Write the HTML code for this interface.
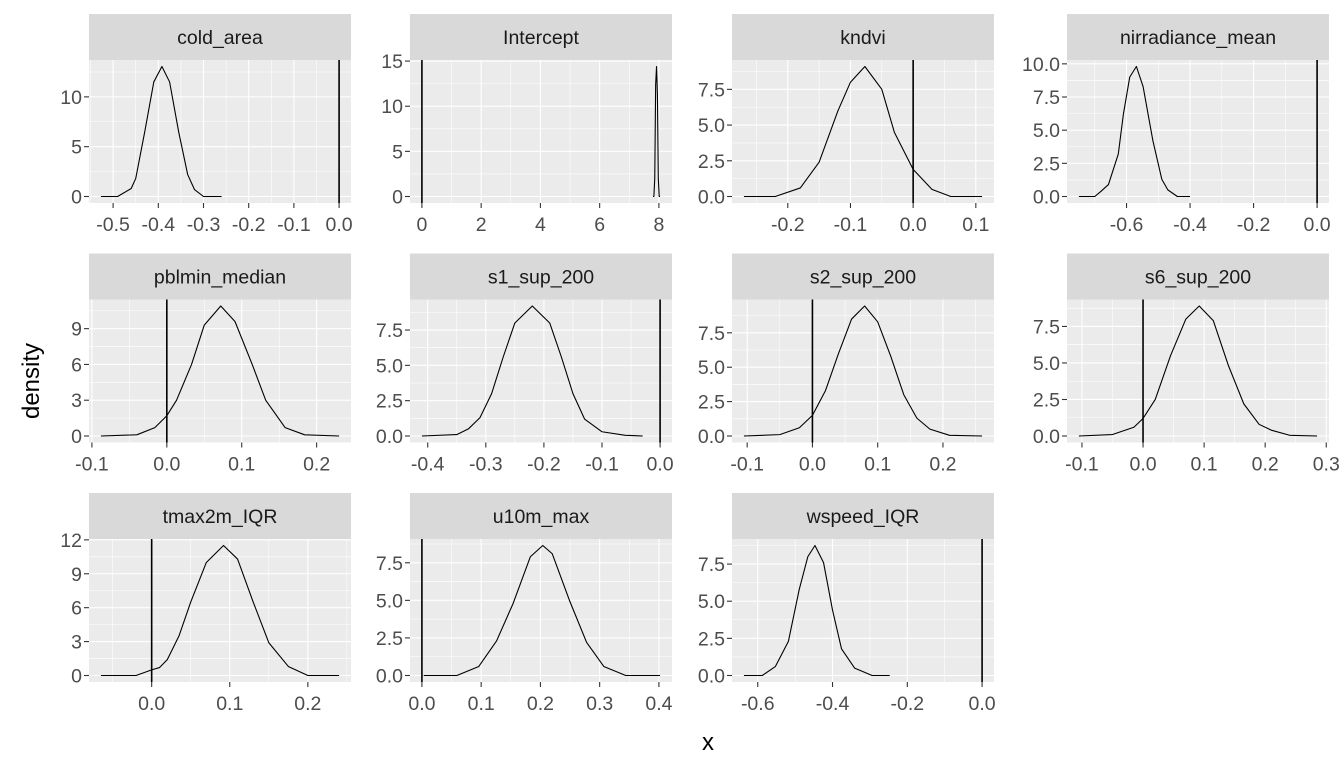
<!DOCTYPE html>
<html><head><meta charset="utf-8">
<style>
html,body{margin:0;padding:0;background:#fff;}
svg{display:block;font-family:"Liberation Sans",Arial,sans-serif;}
</style></head>
<body>
<svg id="chart" width="1344" height="768" viewBox="0 0 1344 768" xmlns="http://www.w3.org/2000/svg">
<text x="0" y="0" transform="translate(39,381) rotate(-90)" text-anchor="middle" font-size="24" fill="#000">density</text>
<text x="708" y="750" text-anchor="middle" font-size="24" fill="#000">x</text>
</svg>
<script>
const facetNames = ["cold_area","Intercept","kndvi","nirradiance_mean","pblmin_median","s1_sup_200","s2_sup_200","s6_sup_200","tmax2m_IQR","u10m_max","wspeed_IQR"];
const curveX = [
 [-0.527,-0.49,-0.46,-0.45,-0.43,-0.41,-0.392,-0.375,-0.355,-0.335,-0.32,-0.30,-0.26],
 [7.8,7.83,7.86,7.89,7.92,7.95,7.98,8.01,8.04],
 [-0.27,-0.22,-0.18,-0.15,-0.12,-0.10,-0.077,-0.05,-0.03,0,0.03,0.06,0.11],
 [-0.75,-0.70,-0.68,-0.657,-0.626,-0.61,-0.59,-0.569,-0.548,-0.517,-0.489,-0.47,-0.44,-0.40],
 [-0.088,-0.04,-0.016,0,0.013,0.033,0.05,0.072,0.091,0.114,0.132,0.158,0.184,0.23],
 [-0.41,-0.35,-0.33,-0.31,-0.29,-0.27,-0.25,-0.22,-0.19,-0.17,-0.15,-0.13,-0.10,-0.06,-0.03],
 [-0.105,-0.05,-0.02,0,0.02,0.04,0.06,0.08,0.10,0.12,0.14,0.16,0.18,0.21,0.26],
 [-0.105,-0.05,-0.015,0,0.02,0.045,0.07,0.092,0.115,0.14,0.165,0.19,0.21,0.24,0.285],
 [-0.065,-0.02,0,0.01,0.02,0.035,0.05,0.07,0.092,0.11,0.13,0.15,0.175,0.2,0.24],
 [0.003,0.059,0.096,0.126,0.154,0.183,0.204,0.22,0.249,0.278,0.307,0.344,0.402],
 [-0.637,-0.588,-0.553,-0.518,-0.489,-0.466,-0.447,-0.424,-0.4,-0.376,-0.341,-0.294,-0.247]
];
const curveY = [
 [0,0,0.8,1.8,6.5,11.5,13.05,11.5,6.5,2.2,0.7,0,0],
 [0,0,2,12.4,14.4,11.3,2,0,0],
 [0,0,0.6,2.4,6,8,9.1,7.5,4.5,1.9,0.5,0,0],
 [0,0,0.4,0.9,3.2,6.2,9.0,9.8,8.3,4.2,1.3,0.5,0,0],
 [0,0.1,0.7,1.7,3,6,9.3,10.9,9.6,6,3,0.7,0.1,0],
 [0,0.1,0.5,1.3,3,5.6,8,9.2,8,5.6,3,1.2,0.3,0.05,0],
 [0,0.1,0.6,1.5,3.3,6,8.5,9.45,8.3,5.8,3,1.3,0.5,0.05,0],
 [0,0.1,0.6,1.2,2.5,5.5,8,8.9,7.9,4.8,2.2,0.8,0.4,0.05,0],
 [0,0,0.5,0.7,1.4,3.5,6.5,10,11.5,10.3,6.5,2.9,0.8,0,0],
 [0,0,0.6,2.3,4.8,7.9,8.65,8.1,5,2.2,0.6,0,0],
 [0,0,0.6,2.3,5.8,8,8.75,7.6,4.4,1.8,0.5,0,0]
];
const vlineValue = [0,0,0,0,0,0,0,0,0,0,0];
const xTickLabels = [
 ["-0.5","-0.4","-0.3","-0.2","-0.1","0.0"],
 ["0","2","4","6","8"],
 ["-0.2","-0.1","0.0","0.1"],
 ["-0.6","-0.4","-0.2","0.0"],
 ["-0.1","0.0","0.1","0.2"],
 ["-0.4","-0.3","-0.2","-0.1","0.0"],
 ["-0.1","0.0","0.1","0.2"],
 ["-0.1","0.0","0.1","0.2","0.3"],
 ["0.0","0.1","0.2"],
 ["0.0","0.1","0.2","0.3","0.4"],
 ["-0.6","-0.4","-0.2","0.0"]
];
const yTickLabels = [
 ["0","5","10"],
 ["0","5","10","15"],
 ["0.0","2.5","5.0","7.5"],
 ["0.0","2.5","5.0","7.5","10.0"],
 ["0","3","6","9"],
 ["0.0","2.5","5.0","7.5"],
 ["0.0","2.5","5.0","7.5"],
 ["0.0","2.5","5.0","7.5"],
 ["0","3","6","9","12"],
 ["0.0","2.5","5.0","7.5"],
 ["0.0","2.5","5.0","7.5"]
];

const NS = "http://www.w3.org/2000/svg";
const svg = document.getElementById('chart');
const colLeft = [89,410,732,1067];
const rowTop = [14,253.5,493];
const PW = 262, SH = 46, PH = 143;
const FS = 19.5;
function mk(tag, attrs, parent){
  const e = document.createElementNS(NS, tag);
  for (const k in attrs) e.setAttribute(k, attrs[k]);
  parent.appendChild(e);
  return e;
}
facetNames.forEach((name, i) => {
  const c = i % 4, r = Math.floor(i / 4);
  const L = colLeft[c], T = rowTop[r] + SH, B = T + PH, R = L + PW;
  const xs = curveX[i], ys = curveY[i];
  let xmin = Math.min(...xs, vlineValue[i]), xmax = Math.max(...xs, vlineValue[i]);
  const xr = xmax - xmin; xmin -= 0.05*xr; xmax += 0.05*xr;
  const ypk = Math.max(...ys); const ymin = -0.05*ypk, ymax = ypk*1.05;
  const sx = v => L + (v - xmin)/(xmax - xmin)*PW;
  const sy = v => B - (v - ymin)/(ymax - ymin)*PH;

  const g = mk('g', {}, svg);
  
  

  const strip = mk('rect', {x:L, y:rowTop[r], width:PW, height:SH, fill:'#d9d9d9'}, g);
  
  
  const st = mk('text', {x:L+PW/2, y:rowTop[r]+30, 'text-anchor':'middle', 'font-size':FS, fill:'#1a1a1a'}, g);
  st.textContent = name;
  
  

  const bg = mk('rect', {x:L, y:T, width:PW, height:PH, fill:'#ebebeb'}, g);
  
  

  const xb = xTickLabels[i].map(Number), yb = yTickLabels[i].map(Number);
  const xstep = xb[1]-xb[0], ystep = yb[1]-yb[0];
  for (let k = -3; k < xb.length + 3; k++) {
    const v = xb[0] + (k+0.5)*xstep;
    if (v > xmin && v < xmax) { const gl = mk('line', {x1:sx(v), x2:sx(v), y1:T, y2:B, stroke:'#fff', 'stroke-width':0.55}, g);
        }
  }
  for (let k = -3; k < yb.length + 3; k++) {
    const v = yb[0] + (k+0.5)*ystep;
    if (v > ymin && v < ymax) { const gl = mk('line', {x1:L, x2:R, y1:sy(v), y2:sy(v), stroke:'#fff', 'stroke-width':0.55}, g);
        }
  }
  xb.forEach((v, k) => {
    const X = sx(v);
    const gl = mk('line', {x1:X, x2:X, y1:T, y2:B, stroke:'#fff', 'stroke-width':1.1}, g);
     
    const tk = mk('line', {x1:X, x2:X, y1:B, y2:B+5, stroke:'#333', 'stroke-width':1.1}, g);
     
    const tl = mk('text', {x:X, y:B+28, 'text-anchor':'middle', 'font-size':FS, fill:'#4d4d4d'}, g);
    tl.textContent = xTickLabels[i][k];
     
  });
  yb.forEach((v, k) => {
    const Y = sy(v);
    const gl = mk('line', {x1:L, x2:R, y1:Y, y2:Y, stroke:'#fff', 'stroke-width':1.1}, g);
     
    const tk = mk('line', {x1:L-5, x2:L, y1:Y, y2:Y, stroke:'#333', 'stroke-width':1.1}, g);
     
    const tl = mk('text', {x:L-7, y:Y+7, 'text-anchor':'end', 'font-size':FS, fill:'#4d4d4d'}, g);
    tl.textContent = yTickLabels[i][k];
     
  });

  const pts = xs.map((v, k) => sx(v).toFixed(2) + ',' + sy(ys[k]).toFixed(2)).join(' ');
  const line = mk('polyline', {points:pts, fill:'none', stroke:'#000', 'stroke-width':1.1, 'stroke-linejoin':'round'}, g);
  
  

  const vl = mk('line', {x1:sx(vlineValue[i]), x2:sx(vlineValue[i]), y1:T, y2:B, stroke:'#000', 'stroke-width':1.6}, g);
  
  
});
</script>
</body></html>
